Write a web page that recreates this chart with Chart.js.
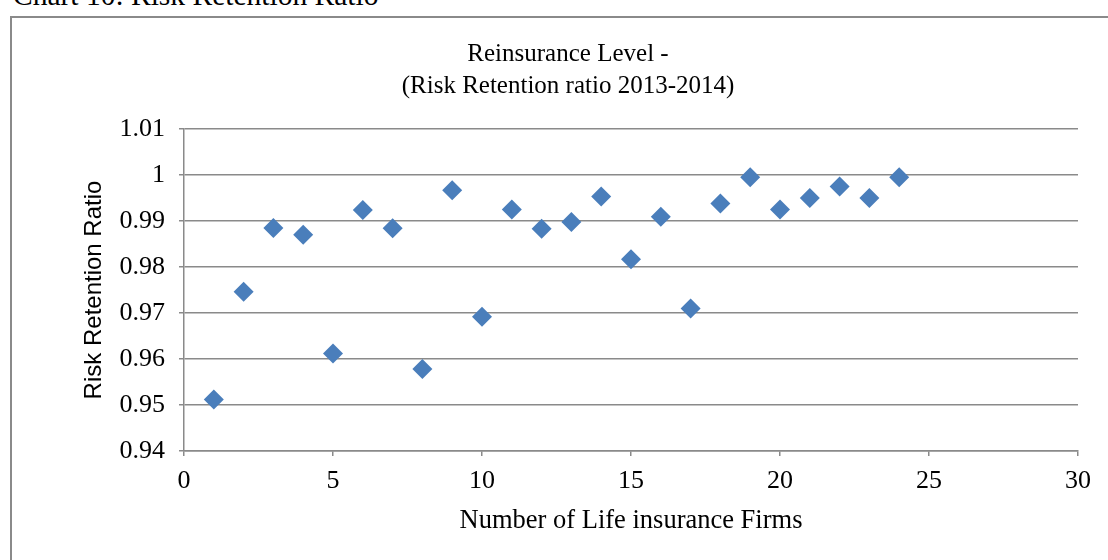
<!DOCTYPE html>
<html>
<head>
<meta charset="utf-8">
<script src="https://cdn.jsdelivr.net/npm/chart.js@4.4.1/dist/chart.umd.min.js"></script>
<style>
  html, body { margin: 0; padding: 0; background: #ffffff; }
  #wrap { position: relative; width: 1108px; height: 560px; overflow: hidden; background: #fff; }
  #frame { position: absolute; left: 10px; top: 16px; width: 1200px; height: 700px;
           border-left: 2px solid #8a8a8a; border-top: 2px solid #8a8a8a; }
  #caption { position: absolute; left: 13px; top: -19px; font: 29.5px/29px "Liberation Serif", "Times New Roman", serif;
             color: #000; white-space: nowrap; }
  #c { position: absolute; left: 0; top: 0; }
</style>
</head>
<body>
<div id="wrap">
  <div id="frame"></div>
  <div id="caption">Chart 10: Risk Retention Ratio</div>
  <canvas id="c" width="1108" height="560"></canvas>
</div>
<script>
// ---- data ----
const firms = [1, 2, 3, 4, 5, 6, 7, 8, 9, 10, 11, 12, 13, 14, 15, 16, 17, 18, 19, 20, 21, 22, 23, 24];
const retentionRatio = [0.9512, 0.9746, 0.9885, 0.9870, 0.9612, 0.9924, 0.9884, 0.9578, 0.9967, 0.9692,
                        0.9925, 0.9883, 0.9898, 0.9953, 0.9817, 0.9909, 0.9710, 0.9938, 0.9995, 0.9925,
                        0.9950, 0.9975, 0.9950, 0.9995];
const titleLines = ['Reinsurance Level -', '(Risk Retention ratio 2013-2014)'];
const xAxisTitle = 'Number of Life insurance Firms';
const yAxisTitle = 'Risk Retention Ratio';
const xRange = [0, 30];
const xStep = 5;
const yRange = [0.94, 1.01];
const yStep = 0.01;

const points = firms.map((f, i) => ({ x: f, y: retentionRatio[i] }));

const serif = '"Liberation Serif", "Times New Roman", serif';
const gridColor = '#8a8a8a';

new Chart(document.getElementById('c'), {
  type: 'scatter',
  data: {
    datasets: [{
      label: 'Risk Retention Ratio',
      data: points,
      pointStyle: 'rectRot',
      pointRadius: 10,
      pointHoverRadius: 10,
      backgroundColor: '#4a7ebb',
      borderColor: '#4a7ebb',
      borderWidth: 0
    }]
  },
  options: {
    responsive: false,
    animation: false,
    events: [],
    layout: { padding: { left: 58, right: 30, top: 0, bottom: 0 } },
    plugins: {
      legend: { display: false },
      tooltip: { enabled: false },
      title: {
        display: true,
        text: titleLines,
        color: '#000',
        font: { family: serif, size: 25, weight: 'normal', lineHeight: '32px' },
        padding: { top: 38, bottom: 27 }
      }
    },
    scales: {
      x: {
        type: 'linear',
        min: xRange[0],
        max: xRange[1],
        ticks: { stepSize: xStep, color: '#000', font: { family: serif, size: 26 }, padding: 10, maxRotation: 0 },
        grid: { drawOnChartArea: false, drawTicks: true, tickLength: 5, color: gridColor, lineWidth: 1.5 },
        border: { display: true, color: gridColor, width: 1.5 },
        title: { display: true, text: xAxisTitle, color: '#000', font: { family: serif, size: 26.5 }, padding: { top: 0, bottom: 23 } },
        afterFit: (s) => { s.height = 109; }
      },
      y: {
        type: 'linear',
        min: yRange[0],
        max: yRange[1],
        ticks: {
          stepSize: yStep, color: '#000', font: { family: serif, size: 26 }, padding: 14,
          callback: (v) => String(+Number(v).toFixed(2))
        },
        grid: { drawTicks: true, tickLength: 5, color: gridColor, lineWidth: 1.5 },
        border: { display: true, color: gridColor, width: 1.5 },
        title: { display: true, text: yAxisTitle, color: '#000', font: { family: '"Liberation Sans", Arial, sans-serif', size: 24 }, padding: { top: 22, bottom: 0 } },
        afterFit: (s) => { s.width = 126; }
      }
    }
  }
});
</script>
</body>
</html>
